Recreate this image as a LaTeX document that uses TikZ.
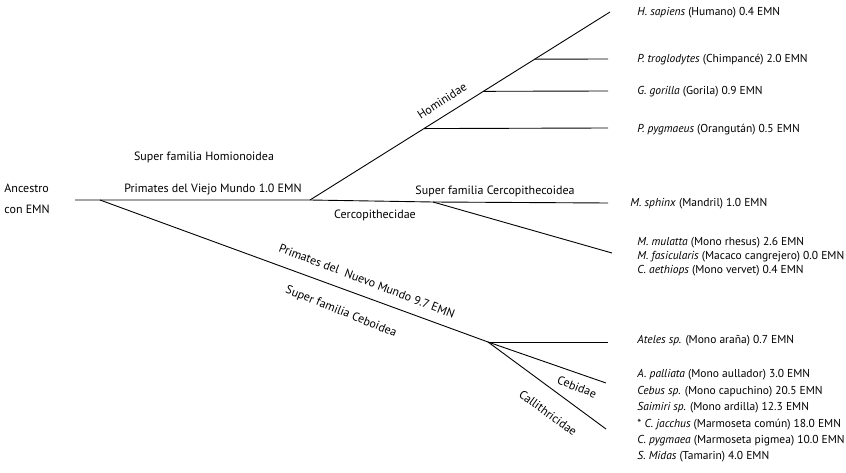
\documentclass[tikz,border=0pt]{standalone}
\usepackage{fontspec}
\setmainfont{PT Sans}
\usetikzlibrary{calc}

\begin{document}
\begin{tikzpicture}[x=1pt, y=-1pt, line width=0.9pt,
    grp/.style={font=\fontsize{12}{14}\selectfont, inner sep=1pt},
    taxon/.style={font=\fontsize{11.5}{13}\selectfont, anchor=west, inner sep=0pt}]
    \useasboundingbox (0,0) rectangle (846,473);

    % Branch points and free ends
    \coordinate (root) at (75,200);
    \coordinate (nw) at (100,200);
    \coordinate (ow) at (310,200);
    \coordinate (cerc) at (433,202);
    \coordinate (sphE) at (608,203);
    \coordinate (sapE) at (610,12);
    \coordinate (trogE) at (608,59);
    \coordinate (gorE) at (608,91);
    \coordinate (pygE) at (608,128);
    \coordinate (mulE) at (612,253);
    \coordinate (ceb) at (488,342);
    \coordinate (atE) at (608,342);
    \coordinate (cebE) at (606,383);
    \coordinate (calE) at (606,429);

    % Ancestor and Old World line
    \node[grp, anchor=west, align=left] (anc) at (3,199) {Ancestro\\[7pt]con EMN};
    \draw (root) -- (ow) -- (cerc) -- (sphE);
    \node[grp] (ow-lbl) at (213,190) {Primates del Viejo Mundo 1.0 EMN};
    \node[grp] (hom-sf) at (204,157) {Super familia Homionoidea};
    \node[grp] (cer-sf) at (495,191) {Super familia Cercopithecoidea};
    \node[grp] (cer-fam) at (375,215) {Cercopithecidae};

    % Hominidae
    \draw (ow) -- (sapE);
    \node[grp, rotate=33] (hom) at (442,101) {Hominidae};
    \draw ($(ow)!0.749!(sapE)$) -- (trogE);
    \draw ($(ow)!0.578!(sapE)$) -- (gorE);
    \draw ($(ow)!0.380!(sapE)$) -- (pygE);

    % Cercopithecidae
    \draw (cerc) -- (mulE);

    % New World
    \draw (nw) -- (ceb);
    \node[grp, rotate=-21] (nw-lbl) at (367,281) {Primates del\ \ Nuevo Mundo 9.7 EMN};
    \node[grp, rotate=-22] (ceb-sf) at (341,312) {Super familia Ceboidea};
    \draw (ceb) -- (atE);
    \draw (ceb) -- (cebE);
    \draw (ceb) -- (calE);
    \node[grp, rotate=-21] (cebid) at (577,387) {Cebidae};
    \node[grp, rotate=-36] (calli) at (548,413) {Callithricidae};

    % Species
    \foreach \x/\y/\pre/\sp/\rest [count=\i] in {
        637/13//H. sapiens/\ (Humano) 0.4 EMN,
        637/60//P. troglodytes/\ (Chimpancé) 2.0 EMN,
        637/92//G. gorilla/\ (Gorila) 0.9 EMN,
        637/130//P. pygmaeus/\ (Orangután) 0.5 EMN,
        630/204//M. sphinx/ (Mandril) 1.0 EMN,
        637/243//M. mulatta/\ (Mono rhesus) 2.6 EMN,
        637/257//M. fasicularis/\ (Macaco cangrejero) 0.0 EMN,
        637/271//C. aethiops/\ (Mono vervet) 0.4 EMN,
        637/341//Ateles sp./ (Mono araña) 0.7 EMN,
        637/375//A. palliata/ (Mono aullador) 3.0 EMN,
        637/392//Cebus sp./ (Mono capuchino) 20.5 EMN,
        637/408//Saimiri sp./ (Mono ardilla) 12.3 EMN,
        637/425/{* }/C. jacchus/ (Marmoseta común) 18.0 EMN,
        637/441//C. pygmaea/ (Marmoseta pigmea) 10.0 EMN,
        637/457//S. Midas/ (Tamarin) 4.0 EMN
    } {
        \node[taxon] (sp\i) at (\x,\y) {\pre\textit{\sp}\rest};
    }
\end{tikzpicture}
\end{document}
